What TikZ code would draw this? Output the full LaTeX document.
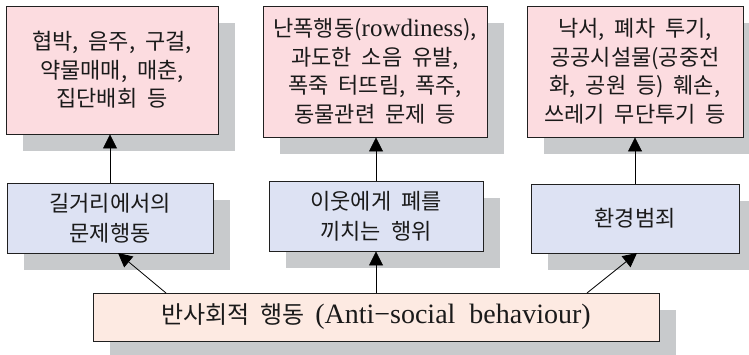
\documentclass[tikz,border=0pt]{standalone}
\usepackage{fontspec}
\setmainfont{Liberation Serif}
\newfontfamily\kr[WordSpace=2.0]{Noto Sans CJK KR}
\newfontfamily\en[WordSpace=2]{Liberation Serif}
\usetikzlibrary{arrows.meta,shadows}

\definecolor{factbg}{HTML}{FCDCE0}
\definecolor{typebg}{HTML}{DDE2F3}
\definecolor{rootbg}{HTML}{FDEAE2}
\definecolor{shade}{HTML}{C8CACC}
\definecolor{edge}{HTML}{202020}
\definecolor{ink}{HTML}{1A1A1A}

\newcommand{\latin}[2]{{\en\fontsize{#1}{29}\selectfont #2}}

\tikzset{
  x=1pt, y=1pt,
  box/.style={draw=edge, line width=0.9pt, inner sep=0pt, align=center, text=ink,
    font=\kr\fontsize{22}{28.5}\selectfont,
    drop shadow={shadow xshift=17pt, shadow yshift=-17pt, fill=shade, opacity=1, draw=none}},
  factbox/.style={box, fill=factbg},
  typebox/.style={box, fill=typebg, font=\kr\fontsize{22}{30}\selectfont},
  rootbox/.style={box, fill=rootbg, font=\kr\fontsize{24}{30}\selectfont},
  link/.style={draw=black, line width=0.8pt, -{Triangle[length=14pt,width=14pt]}}
}

\begin{document}
\begin{tikzpicture}
\useasboundingbox (0,0) rectangle (749,354);
\clip (0,0) rectangle (749,354);

% top row: concrete examples
\node[factbox, minimum width=212pt, minimum height=128pt] (f1) at (112,284)
  {협박, 음주, 구걸,\\약물매매, 매춘,\\집단배회 등};
\node[factbox, minimum width=224pt, minimum height=131pt] (f2) at (375,282.5)
  {난폭행동(\latin{25}{rowdiness}),\\과도한 소음 유발,\\폭죽 터뜨림, 폭주,\\동물관련 문제 등};
\node[factbox, minimum width=216pt, minimum height=131pt] (f3) at (635,282.5)
  {낙서, 폐차 투기,\\공공시설물(공중전\\화, 공원 등) 훼손,\\쓰레기 무단투기 등};

% middle row: categories
\node[typebox, minimum width=206pt, minimum height=70pt] (t1) at (110,136)
  {길거리에서의\\문제행동};
\node[typebox, minimum width=214pt, minimum height=70pt] (t2) at (376,138)
  {이웃에게 폐를\\끼치는 행위};
\node[typebox, minimum width=208pt, minimum height=69pt] (t3) at (635,135.5)
  {환경범죄};

% bottom: root concept
\node[rootbox, minimum width=566pt, minimum height=48pt] (r) at (376,37)
  {반사회적 행동 \latin{28}{(Anti−social behaviour)}};

% connectors
\draw[link] (t1.north) -- (t1.north |- f1.south);
\draw[link] (t2.north) -- (t2.north |- f2.south);
\draw[link] (t3.north) -- (t3.north |- f3.south);

\coordinate (r1) at (166,61);
\coordinate (r3) at (587,61);
\draw[link] (r1) -- (118,101);
\draw[link] (r.north -| t2.south) -- (t2.south);
\draw[link] (r3) -- (637,101);
\end{tikzpicture}
\end{document}
